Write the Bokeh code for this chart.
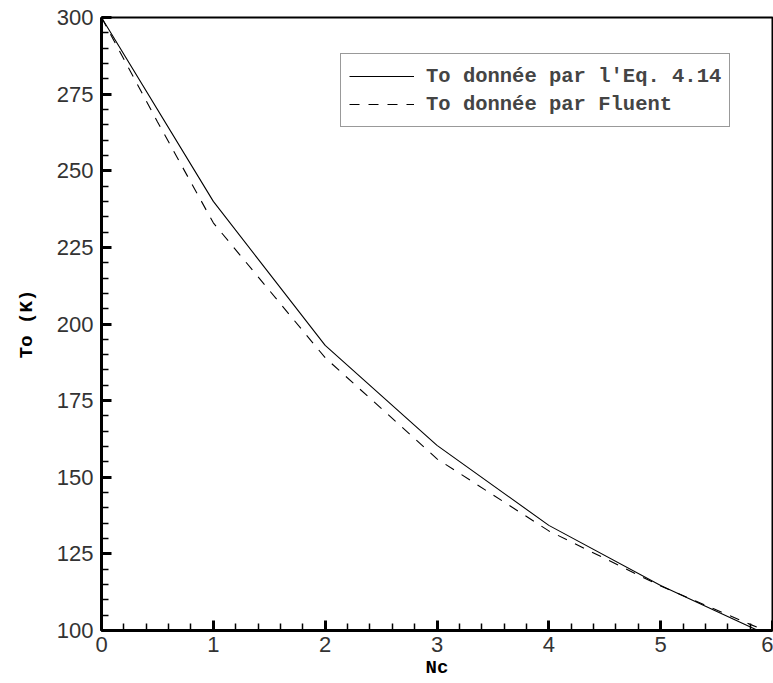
from bokeh.plotting import figure
from bokeh.models import Range1d, Legend, LegendItem, SingleIntervalTicker
from bokeh.embed import file_html
from bokeh.resources import INLINE

nc_eq = [0, 1, 2, 3, 4, 5, 5.87]
to_eq = [300, 240, 193, 160.4, 134.3, 114.7, 100]

nc_fluent = [0, 0.5, 1, 2, 3, 4, 5, 5.8, 6]
to_fluent = [300, 266, 233, 189, 156, 132.5, 114.5, 102, 99]

label_eq = "To donnée par l'Eq. 4.14"
label_fluent = "To donnée par Fluent"

p = figure(width=773, height=683, output_backend="svg", toolbar_location=None,
           x_range=Range1d(0, 6), y_range=Range1d(100, 300),
           min_border_left=101, min_border_right=1, min_border_top=17, min_border_bottom=53)
p.background_fill_color = "white"
p.border_fill_color = "white"
p.outline_line_color = "black"
p.outline_line_width = 2
p.xgrid.visible = False
p.ygrid.visible = False

r1 = p.line(nc_eq, to_eq, line_color="black", line_width=1.1)
r2 = p.line(nc_fluent, to_fluent, line_color="black", line_width=1.1, line_dash="10 9")

mono = "'Liberation Mono', 'Courier New', monospace"
for ax in (p.xaxis[0], p.yaxis[0]):
    ax.axis_line_width = 3
    ax.axis_line_color = "black"
    ax.major_tick_in = 10
    ax.major_tick_out = 0
    ax.major_tick_line_width = 3
    ax.minor_tick_in = 7
    ax.minor_tick_out = 0
    ax.minor_tick_line_width = 1.5
    ax.major_label_text_font = "Liberation Sans"
    ax.major_label_text_font_size = "22px"
    ax.major_label_text_color = "#333333"
    ax.axis_label_text_font = mono
    ax.axis_label_text_font_style = "bold"
    ax.axis_label_text_font_size = "19px"
    ax.axis_label_text_color = "black"

p.xaxis[0].ticker = SingleIntervalTicker(interval=1, num_minor_ticks=5)
p.yaxis[0].ticker = SingleIntervalTicker(interval=25, num_minor_ticks=5)
p.xaxis.axis_label = "Nc"
p.yaxis.axis_label = "To (K)"
p.xaxis.major_label_standoff = 6
p.yaxis.major_label_standoff = 8
p.xaxis.axis_label_standoff = 2
p.yaxis.axis_label_standoff = 16

legend = Legend(items=[LegendItem(label=label_eq, renderers=[r1]),
                       LegendItem(label=label_fluent, renderers=[r2])],
                location=(239, 503))
legend.label_text_font = mono
legend.label_text_font_style = "bold"
legend.label_text_font_size = "20.5px"
legend.glyph_width = 65
legend.glyph_height = 28
legend.label_height = 28
legend.spacing = 0
legend.padding = 8
legend.margin = 0
legend.label_standoff = 12
legend.border_line_color = "#333333"
legend.border_line_width = 1.5
legend.background_fill_alpha = 1
p.add_layout(legend, "center")

open("out.html", "w").write(file_html(p, INLINE))
